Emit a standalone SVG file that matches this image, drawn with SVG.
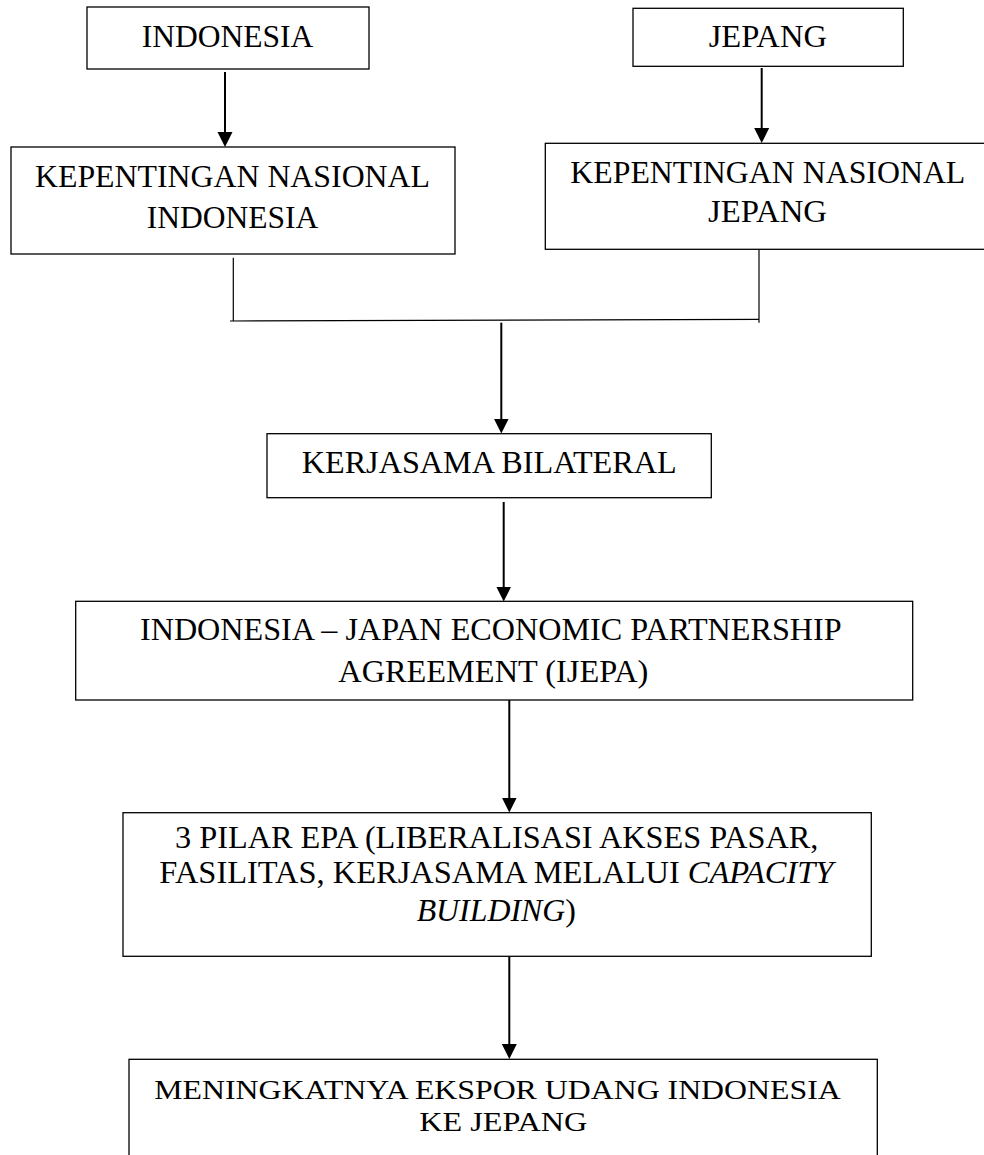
<svg xmlns="http://www.w3.org/2000/svg" width="984" height="1155" viewBox="0 0 984 1155">
<style>
.box{fill:#fff;stroke:#000;stroke-width:1.3}
.t{font-family:"Liberation Serif","Times New Roman",serif;font-size:31px;fill:#000;text-anchor:middle}
.sm{font-size:28px}
.arrow{stroke:#000;stroke-width:2;fill:none;marker-end:url(#ah)}
.thin{stroke:#000;stroke-width:1.2;fill:none}
</style>
<defs>
<marker id="ah" markerUnits="userSpaceOnUse" markerWidth="16" markerHeight="16" refX="5" refY="7.5" orient="auto" viewBox="0 0 16 15">
<path d="M0,0 L15,7.5 L0,15 Z" fill="#000"/>
</marker>
</defs>
<rect width="984" height="1155" fill="#fff"/>
<g id="connectors">
<line class="arrow" x1="225" y1="72" x2="225" y2="137"/>
<line class="arrow" x1="761.7" y1="68" x2="761.7" y2="133"/>
<line class="thin" x1="233.3" y1="257.7" x2="233.3" y2="321"/>
<line class="thin" x1="759" y1="247.7" x2="759" y2="322.7"/>
<line class="thin" x1="230" y1="321" x2="759" y2="319.3"/>
<line class="arrow" x1="501.3" y1="322.7" x2="501.3" y2="423.5"/>
<line class="arrow" x1="503.7" y1="502" x2="503.7" y2="591.5"/>
<line class="arrow" x1="509.3" y1="700" x2="509.3" y2="802.5"/>
<line class="arrow" x1="509.3" y1="957" x2="509.3" y2="1049"/>
</g>
<g id="n-indonesia">
<rect class="box" x="87" y="7" width="282" height="62"/>
<text class="t" x="227.5" y="46.7" textLength="171.7" lengthAdjust="spacingAndGlyphs">INDONESIA</text>
</g>
<g id="n-jepang">
<rect class="box" x="633" y="8.3" width="270.3" height="58"/>
<text class="t" x="767.8" y="46.7" textLength="118.3" lengthAdjust="spacingAndGlyphs">JEPANG</text>
</g>
<g id="n-kni">
<rect class="box" x="11" y="147" width="444" height="107"/>
<text class="t" x="232.5" y="186.7" textLength="395" lengthAdjust="spacingAndGlyphs">KEPENTINGAN NASIONAL</text>
<text class="t" x="232.5" y="227.7" textLength="171.7" lengthAdjust="spacingAndGlyphs">INDONESIA</text>
</g>
<g id="n-knj">
<rect class="box" x="545.3" y="143.3" width="445" height="106"/>
<text class="t" x="767.8" y="182.7" textLength="395" lengthAdjust="spacingAndGlyphs">KEPENTINGAN NASIONAL</text>
<text class="t" x="767.5" y="221.7" textLength="119" lengthAdjust="spacingAndGlyphs">JEPANG</text>
</g>
<g id="n-kerjasama">
<rect class="box" x="267" y="433.7" width="444.3" height="64"/>
<text class="t" x="489.2" y="473.3" textLength="375" lengthAdjust="spacingAndGlyphs" style="font-size:31.5px">KERJASAMA BILATERAL</text>
</g>
<g id="n-ijepa">
<rect class="box" x="75.7" y="601.3" width="837" height="98.7"/>
<text class="t" x="490.8" y="640" textLength="701.7" lengthAdjust="spacingAndGlyphs">INDONESIA – JAPAN ECONOMIC PARTNERSHIP</text>
<text class="t" x="493.3" y="681.7" textLength="310" lengthAdjust="spacingAndGlyphs">AGREEMENT (IJEPA)</text>
</g>
<g id="n-pilar">
<rect class="box" x="123" y="812.7" width="748.3" height="143.6"/>
<text class="t" x="496.7" y="848.3" textLength="643.3" lengthAdjust="spacingAndGlyphs">3 PILAR EPA (LIBERALISASI AKSES PASAR,</text>
<text class="t" x="496.3" y="882.7" textLength="674" lengthAdjust="spacingAndGlyphs">FASILITAS, KERJASAMA MELALUI <tspan font-style="italic">CAPACITY</tspan></text>
<text class="t" x="496.3" y="921" textLength="159.3" lengthAdjust="spacingAndGlyphs"><tspan font-style="italic">BUILDING</tspan>)</text>
</g>
<g id="n-ekspor">
<rect class="box" x="129" y="1059.3" width="748.3" height="110"/>
<text class="t sm" x="497.5" y="1099" textLength="686.4" lengthAdjust="spacingAndGlyphs">MENINGKATNYA EKSPOR UDANG INDONESIA</text>
<text class="t sm" x="503.3" y="1131" textLength="168" lengthAdjust="spacingAndGlyphs">KE JEPANG</text>
</g>
</svg>
